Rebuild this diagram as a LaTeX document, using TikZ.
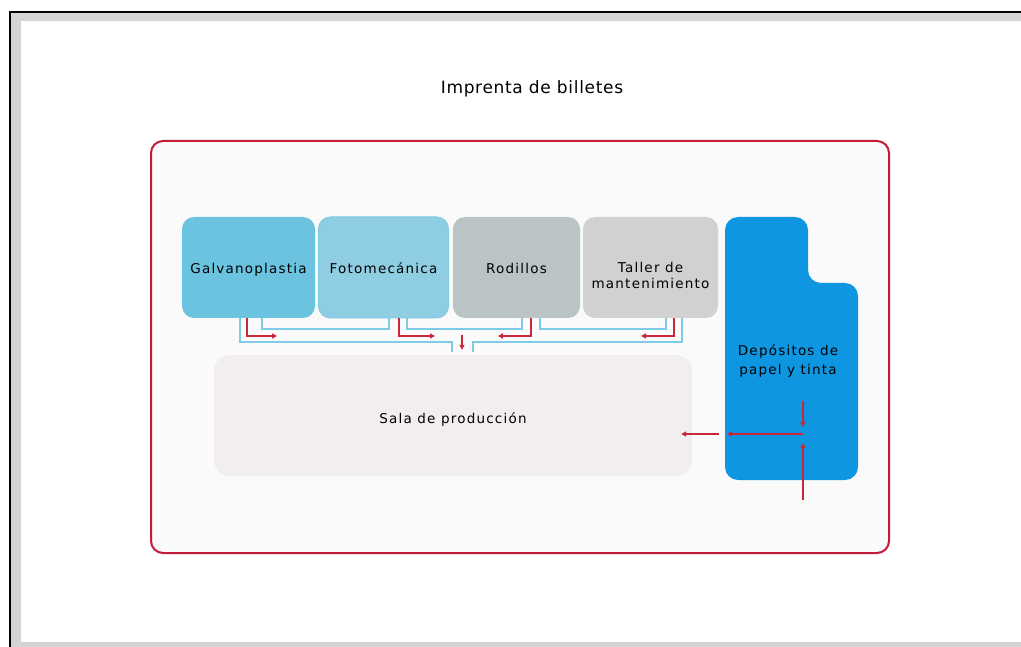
\documentclass[tikz,border=0pt]{standalone}
\usepackage{fontspec}
\setmainfont{DejaVu Sans}
\usepackage{tikz}
\usetikzlibrary{positioning}
\usetikzlibrary{arrows.meta}

\definecolor{frameRed}{HTML}{C41A3C}
\definecolor{arrowRed}{HTML}{C8283C}
\definecolor{lineBlue}{HTML}{7ECBE6}
\definecolor{galvBlue}{HTML}{6CC3DF}
\definecolor{fotoBlue}{HTML}{8ECDE2}
\definecolor{rodGrey}{HTML}{BAC3C6}
\definecolor{tallerGrey}{HTML}{D1D1D1}
\definecolor{depBlue}{HTML}{0E96E0}
\definecolor{salaGrey}{HTML}{F1EEED}
\definecolor{bandGrey}{HTML}{D4D4D4}

\tikzset{
  area/.style={rounded corners=12pt, minimum height=101pt, inner sep=0pt,
    text height=15pt, text depth=3pt,
    align=center, text=black, font=\fontsize{13.5}{16.5}\selectfont\addfontfeature{LetterSpace=9}},
  blueline/.style={draw=lineBlue, line width=1.3pt},
  redline/.style={draw=arrowRed, line width=1.3pt, -{Triangle[length=5pt,width=5pt]}},
}

\begin{document}
\begin{tikzpicture}[x=1pt,y=-1pt]
   \useasboundingbox (0,0) rectangle (1021,647);
   % window frame
   \fill[bandGrey] (10,12) rectangle (1021,647);
   \fill[white] (21,21) rectangle (1021,642);
   \draw[black, line width=2pt] (10,647) -- (10,12) -- (1021,12);

   \node (title) at (532,89) {\fontsize{17}{20}\selectfont\addfontfeature{LetterSpace=4}Imprenta de billetes};

   % plant outline
   \draw[frameRed, fill=white!98!black, line width=2pt, rounded corners=12pt]
     (151,141) rectangle (889,553);

   \node[area, fill=galvBlue, minimum width=133pt] (galv) at (248.5,267.5) {Galvanoplastia};
   \node[area, fill=fotoBlue, draw=lineBlue, line width=1pt, minimum width=130pt] (foto) at (383.5,267.5) {Fotomecánica};
   \node[area, fill=rodGrey, minimum width=127pt] (rod) at (516.5,267.5) {Rodillos};
   \node[area, fill=tallerGrey, minimum width=135pt, text height=45pt] (taller) at (650.5,267.5) {Taller de\\mantenimiento};
   \node[area, fill=salaGrey, rounded corners=16pt, minimum width=478pt, minimum height=121pt, text height=18pt] (sala) at (453,415.5) {Sala de producción};

   % deposit with its notch
   \fill[depBlue, rounded corners=13pt] (725,480) -- (725,217) -- (808,217) -- (808,283)
     -- (858,283) -- (858,480) -- cycle;
   \node[font=\fontsize{13.5}{19}\selectfont\addfontfeature{LetterSpace=9}, align=center] (dep) at (788,361) {Depósitos de\\papel y tinta};

   % blue feeds between the workshops
   \draw[blueline] ([xshift=13.5pt]galv.south) |- (389,329) -- ([xshift=5.5pt]foto.south);
   \draw[blueline] ([xshift=23.5pt]foto.south) |- (522,329) -- ([xshift=5.5pt]rod.south);
   \draw[blueline] ([xshift=23.5pt]rod.south) |- (666,329) -- ([xshift=15.5pt]taller.south);
   \draw[blueline] ([xshift=-8.5pt]galv.south) |- (452,342) -- ([xshift=-1pt,yshift=3pt]sala.north);
   \draw[blueline] ([xshift=31.5pt]taller.south) |- (473,342) -- ([xshift=20pt,yshift=3pt]sala.north);

   % red flows
   \draw[redline] ([xshift=-1.5pt]galv.south) |- (277,336);
   \draw[redline] ([xshift=15.5pt]foto.south) |- (435,336);
   \draw[redline] ([xshift=14.5pt]rod.south) |- (498,336);
   \draw[redline] ([xshift=23.5pt]taller.south) |- (641,336);
   \draw[redline] (462,335) -- ([xshift=9pt,yshift=5pt]sala.north);

   \coordinate (junc) at (803,434);
   \coordinate (feed) at (803,500);
   \draw[redline] ([yshift=-20pt]dep.south -| junc) -- ([yshift=7pt]junc);
   \draw[redline] (feed) -- ([yshift=-9pt]junc);
   \draw[redline] (junc) -- (727,434);
   \draw[redline] ([xshift=27pt]sala.east |- junc) -- ([xshift=-11pt]sala.east |- junc);
\end{tikzpicture}
\end{document}
